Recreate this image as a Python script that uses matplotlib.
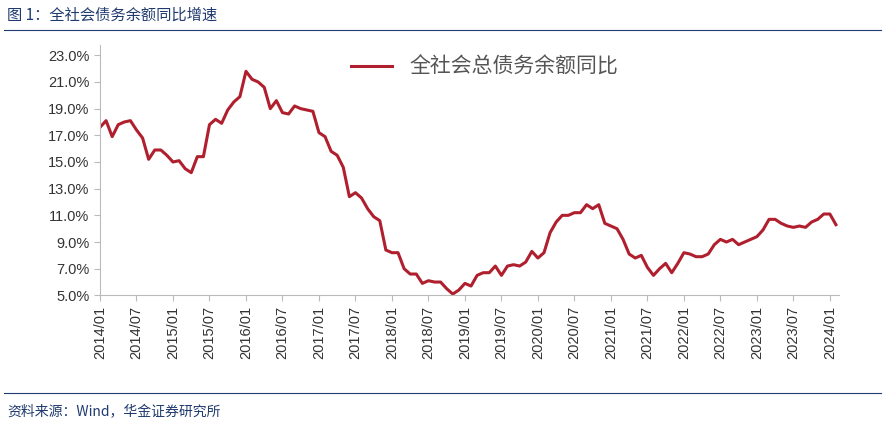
import numpy as np
import pandas as pd
import matplotlib.pyplot as plt

plt.rcParams['font.family'] = ['Noto Sans CJK SC', 'DejaVu Sans']

# 全社会总债务余额同比 (%), 2014/01 - 2024/02
valores = [
    17.6, 18.1, 16.9, 17.8, 18.0, 18.1, 17.4, 16.8, 15.2, 15.9, 15.9, 15.5,
    15.0, 15.1, 14.5, 14.2, 15.4, 15.4, 17.8, 18.2, 17.9, 18.9, 19.5, 19.9,
    21.8, 21.2, 21.0, 20.6, 19.0, 19.6, 18.7, 18.6, 19.2, 19.0, 18.9, 18.8,
    17.2, 16.9, 15.8, 15.5, 14.6, 12.4, 12.7, 12.3, 11.5, 10.9, 10.6, 8.4,
    8.2, 8.2, 7.0, 6.6, 6.6, 5.9, 6.1, 6.0, 6.0, 5.5, 5.1, 5.4,
    5.9, 5.7, 6.5, 6.7, 6.7, 7.2, 6.5, 7.2, 7.3, 7.2, 7.5, 8.3,
    7.8, 8.2, 9.7, 10.5, 11.0, 11.0, 11.2, 11.2, 11.8, 11.5, 11.8, 10.4,
    10.2, 10.0, 9.2, 8.1, 7.8, 8.0, 7.1, 6.5, 7.0, 7.4, 6.7, 7.4,
    8.2, 8.1, 7.9, 7.9, 8.1, 8.8, 9.2, 9.0, 9.2, 8.8, 9.0, 9.2,
    9.4, 9.9, 10.7, 10.7, 10.4, 10.2, 10.1, 10.2, 10.1, 10.5, 10.7, 11.1,
    11.1, 10.3,
]
fechas = pd.date_range("2014-01-01", periods=len(valores), freq="MS")
x = np.arange(len(valores))
tick_pos = np.arange(0, len(valores), 6)
tick_labels = [fechas[i].strftime("%Y/%m") for i in tick_pos]
y_ticks = np.arange(5, 24, 2)

fig = plt.figure(figsize=(8.85, 4.25), dpi=100)
ax = fig.add_axes([0.113, 0.305, 0.835, 0.59])

ax.plot(x, valores, color='#B01F2E', lw=2.2, label='全社会总债务余额同比')
ax.set_xlim(0, len(valores) - 0.5)
ax.set_ylim(5, 23.8)
ax.set_yticks(y_ticks)
ax.set_yticklabels([f"{v:.1f}%" for v in y_ticks], fontsize=10.5,
                   color='#333333', family='Liberation Sans')
ax.set_xticks(tick_pos)
ax.set_xticklabels(tick_labels, rotation=90, fontsize=10.5,
                   color='#333333', family='Liberation Sans')
ax.tick_params(axis='both', length=4, color='#BBBBBB')
for s in ['top', 'right']:
    ax.spines[s].set_visible(False)
for s in ['left', 'bottom']:
    ax.spines[s].set_color('#BBBBBB')
ax.legend(loc='upper center', bbox_to_anchor=(0.52, 1.03), frameon=False,
          fontsize=15, labelcolor='#555555', handlelength=2.0)

fig.text(0.008, 0.965, "图 1：全社会债务余额同比增速", fontsize=11,
         color='#1F3A6E', va='center')
fig.add_artist(plt.Line2D([0.005, 0.995], [0.93, 0.93], color='#1F3A6E', lw=0.8))
fig.add_artist(plt.Line2D([0.005, 0.995], [0.075, 0.075], color='#1F3A6E', lw=0.8))
fig.text(0.008, 0.03, "资料来源：Wind，华金证券研究所", fontsize=10,
         color='#1F3A6E', style='italic', va='center')

fig.savefig("out.png", dpi=100)
